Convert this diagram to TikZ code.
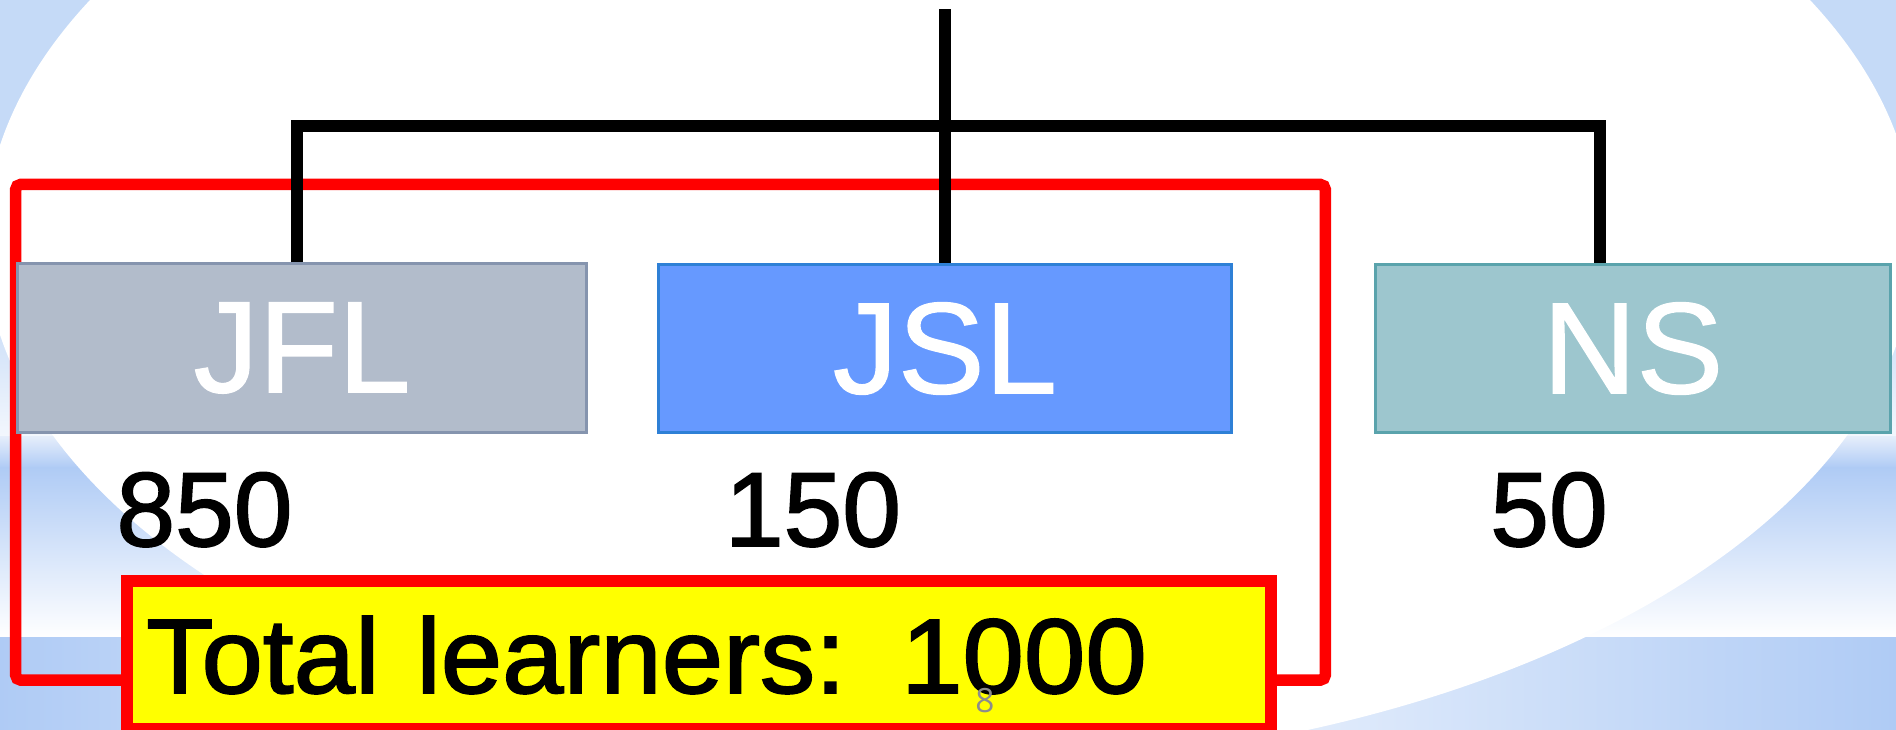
\documentclass[tikz,border=0pt]{standalone}
\usepackage{graphicx}
\usepackage{fontspec}
\setmainfont{Liberation Sans}
\newfontfamily\heavyfont[FakeBold=1.6]{Liberation Sans}
\newfontfamily\labelfont[FakeBold=1]{Liberation Sans}
\newfontfamily\pnfont{Open Sans}
\usetikzlibrary{calc}
\definecolor{bgblue}{HTML}{C5DAF7}
\definecolor{bandblue}{HTML}{AFCBF5}
\definecolor{paleblue}{HTML}{F3F7FD}
\definecolor{midblue}{HTML}{E6EEFB}
\definecolor{jflfill}{HTML}{B2BCCB}
\definecolor{jfldraw}{HTML}{8594AE}
\definecolor{jslfill}{HTML}{6699FF}
\definecolor{jsldraw}{HTML}{2E80D6}
\definecolor{nsfill}{HTML}{9DC6CE}
\definecolor{nsdraw}{HTML}{5AA3AC}
\definecolor{framered}{HTML}{FF0000}
\definecolor{boxyellow}{HTML}{FFFF00}
\definecolor{pngray}{HTML}{8C8C8C}
\tikzset{
  conn/.style={line width=0.12cm, black, line join=miter},
  catbox/.style={draw, line width=0.03cm, minimum height=1.68cm, inner sep=0pt,
    text=white, font=\labelfont\fontsize{37}{44}\selectfont},
  num/.style={anchor=base, inner sep=0pt, font=\heavyfont\fontsize{30}{36}\selectfont},
  redframe/.style={draw=framered, line width=0.115cm, rounded corners=1.5pt,
    minimum width=13.09cm, minimum height=4.955cm, inner sep=0pt},
  totalbox/.style={draw=framered, fill=boxyellow, line width=0.12cm,
    minimum width=11.435cm, minimum height=1.48cm, text width=11.055cm,
    inner xsep=0.19cm, inner ysep=0pt, align=left,
    font=\heavyfont\fontsize{30.2}{36}\selectfont},
  pagenum/.style={anchor=base, inner sep=0pt, text=pngray,
    font=\pnfont\fontsize{9.5}{11}\selectfont}
}
\begin{document}
\begin{tikzpicture}[x=0.01cm, y=-0.01cm]
\useasboundingbox (0,0) rectangle (1896,729);
% background
\begin{scope}
  \clip (0,0) rectangle (1896,729);
  \fill[bgblue] (-2,-2) rectangle (1898,301);
  \shade[top color=bgblue, bottom color=paleblue] (-2,300) rectangle (1898,437);
  \shade[top color=midblue, bottom color=bandblue] (-2,436) rectangle (1898,468);
  \shade[top color=bandblue, bottom color=white] (-2,467) rectangle (1898,638);
  \shade[left color=bandblue, right color=white] (-2,637) rectangle (949,731);
  \shade[left color=white, right color=bandblue] (948,637) rectangle (1898,731);
  \fill[white] (950,240) ellipse [x radius=9.65cm, y radius=5.27cm];
\end{scope}
% red frame
\node[redframe] (frame) at (670.5,432.25) {};
% category boxes
\node[catbox, fill=jflfill, draw=jfldraw, minimum width=5.68cm] (JFL) at (302,348) {JFL};
\node[catbox, fill=jslfill, draw=jsldraw, minimum width=5.72cm] (JSL) at (945,348.5) {JSL};
\node[catbox, fill=nsfill, draw=nsdraw, minimum width=5.14cm] (NS) at (1633,348.5) {NS};
% connectors
\coordinate (top) at (945,9);
\coordinate (hub) at (945,125.5);
\draw[conn] (top) -- (JSL.north);
\draw[conn] ($(JFL.north)+(-5,0)$) |- (hub) -| ($(NS.north)+(-33,0)$);
% numbers
\node[num] (n850) at (204.5,546) {850};
\node[num] (n150) at (813,546) {150};
\node[num] (n50) at (1549,546) {50};
% total box
\node[totalbox] (total) at (699.25,655) {\scalebox{1.04}[1]{Total learners: 1000}};
% page number
\node[pagenum] (pn) at (985,712) {8};
\end{tikzpicture}
\end{document}
